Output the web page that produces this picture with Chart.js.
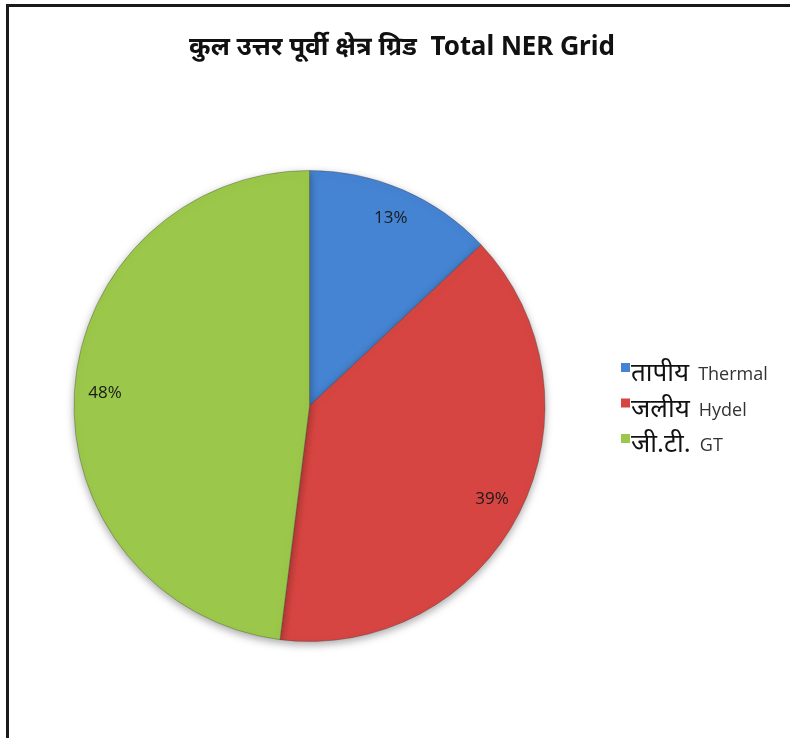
<!DOCTYPE html>
<html>
<head>
<meta charset="utf-8">
<script src="https://cdn.jsdelivr.net/npm/chart.js@4"></script>
<style>
  html, body { margin: 0; padding: 0; background: #fff; overflow: hidden; }
  #wrap { position: relative; width: 790px; height: 738px; }
  #frame { position: absolute; left: 6px; top: 4px; width: 800px; height: 800px;
           border: 3px solid #1a1a1a; pointer-events: none; }
  canvas { position: absolute; left: 0; top: 0; }
</style>
</head>
<body>
<div id="wrap">
  <canvas id="chart" width="790" height="738"></canvas>
  <div id="frame"></div>
</div>
<script>
// data
const labelsHi = ['तापीय', 'जलीय', 'जी.टी.'];
const labelsEn = ['Thermal', 'Hydel', 'GT'];
const values = [13, 39, 48];
const colors = ['#4584D3', '#D64541', '#9BC84A'];
const titleText = 'कुल उत्तर पूर्वी क्षेत्र ग्रिड  Total NER Grid';

const hindiFont = '"Noto Sans Devanagari", "Lohit Devanagari", Mangal, "Noto Sans", sans-serif';
const latinFont = '"Open Sans", "Noto Sans", sans-serif';

// title centred on the whole picture
const topTitle = {
    id: 'topTitle',
    afterDraw(chart) {
        const ctx = chart.ctx;
        ctx.save();
        ctx.font = 'bold 26px ' + hindiFont;
        ctx.fillStyle = '#111';
        ctx.textAlign = 'center';
        ctx.textBaseline = 'middle';
        ctx.fillText(titleText, 402, 50);
        ctx.restore();
    }
};

// percentage labels near the outer edge
const pctLabels = {
    id: 'pctLabels',
    afterDatasetsDraw(chart) {
        const ctx = chart.ctx;
        const meta = chart.getDatasetMeta(0);
        const total = values.reduce((a, b) => a + b, 0);
        ctx.save();
        ctx.font = '17px ' + latinFont;
        ctx.fillStyle = '#1a1a1a';
        ctx.textAlign = 'center';
        ctx.textBaseline = 'middle';
        meta.data.forEach((arc, i) => {
            const mid = (arc.startAngle + arc.endAngle) / 2;
            const r = arc.outerRadius * 0.87;
            const x = arc.x + Math.cos(mid) * r;
            const y = arc.y + Math.sin(mid) * r;
            ctx.fillText(Math.round(values[i] / total * 100) + '%', x, y);
        });
        ctx.restore();
    }
};

// shadow under the pie
const pieShadow = {
    id: 'pieShadow',
    beforeDatasetsDraw(chart) {
        const ctx = chart.ctx;
        ctx.save();
        ctx.shadowColor = 'rgba(0,0,0,0.35)';
        ctx.shadowBlur = 8;
        ctx.shadowOffsetY = 3;
    },
    afterDatasetsDraw(chart) {
        chart.ctx.restore();
    }
};

// legend on the right
const sideLegend = {
    id: 'sideLegend',
    afterDraw(chart) {
        const ctx = chart.ctx;
        const x0 = 621;
        const y0 = 373;
        const step = 35.5;
        ctx.save();
        ctx.textBaseline = 'alphabetic';
        labelsHi.forEach((hi, i) => {
            const y = y0 + i * step;
            ctx.fillStyle = colors[i];
            ctx.fillRect(x0, y - 10, 9, 9);
            ctx.font = '26px ' + hindiFont;
            ctx.fillStyle = '#111';
            ctx.textAlign = 'left';
            ctx.fillText(hi, x0 + 10, y + 8);
            const w = ctx.measureText(hi).width;
            ctx.font = '18px ' + latinFont;
            ctx.fillStyle = '#333';
            ctx.fillText(labelsEn[i], x0 + 10 + w + 9, y + 7);
        });
        ctx.restore();
    }
};

const chart = new Chart(document.getElementById('chart').getContext('2d'), {
    type: 'pie',
    data: {
        labels: labelsHi.map((h, i) => h + ' ' + labelsEn[i]),
        datasets: [{
            data: values,
            backgroundColor: colors,
            borderColor: 'rgba(60,60,60,0.35)',
            borderWidth: 1
        }]
    },
    options: {
        responsive: false,
        animation: false,
        layout: { padding: { left: 73, right: 244, top: 170, bottom: 96 } },
        plugins: {
            legend: { display: false },
            tooltip: { enabled: false },
            title: { display: false }
        }
    },
    plugins: [pieShadow, pctLabels, sideLegend, topTitle]
});
</script>
</body>
</html>
